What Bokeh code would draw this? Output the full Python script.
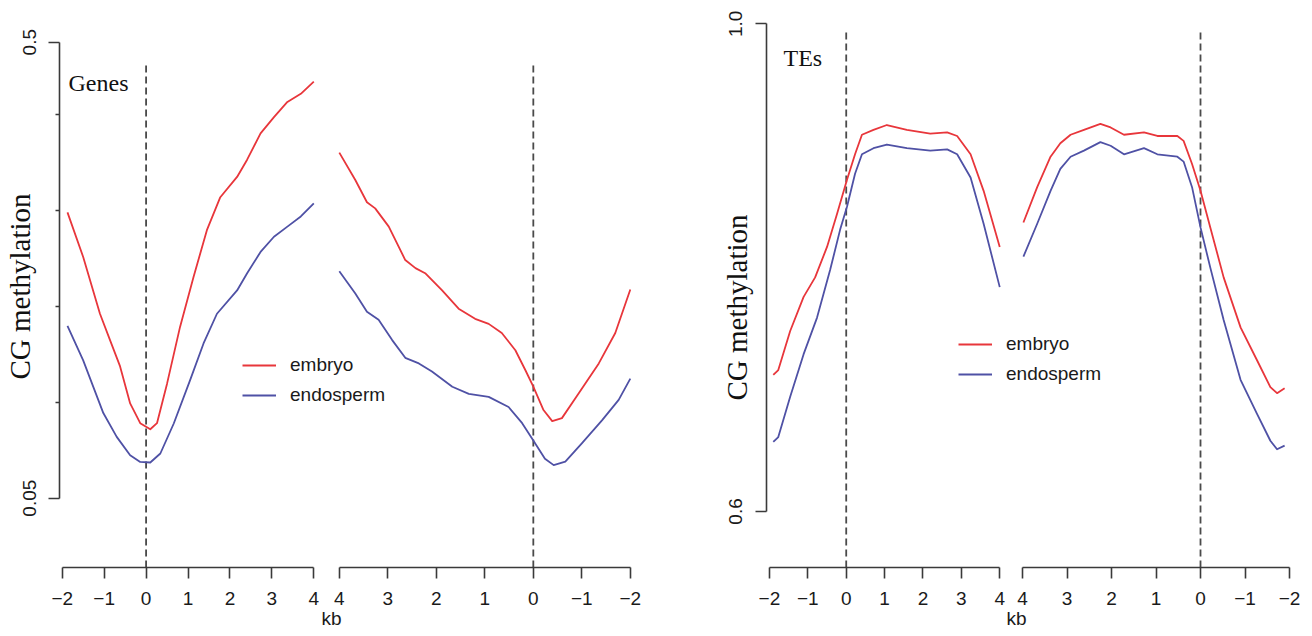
from bokeh.plotting import figure
from bokeh.models import Range1d, FixedTicker, Label, Legend, LegendItem, GridBox, Title
from bokeh.embed import file_html
from bokeh.resources import INLINE

# ---------------- data ----------------
series_names = ["embryo", "endosperm"]
x_tick_values = [-2, -1, 0, 1, 2, 3, 4]
x_tick_labels = ["\u22122", "\u22121", "0", "1", "2", "3", "4"]
boundary_kb = 0  # TSS / TTS position (dashed line)

# Genes, 5' side (-2 .. 4 kb)
gene_x5_embryo = [-1.875, -1.50, -1.10, -0.86, -0.62, -0.38, -0.14, 0.10, 0.26, 0.50, 0.81, 1.13,
                  1.45, 1.77, 2.17, 2.41, 2.73, 3.05, 3.37, 3.69, 4.0]
gene_y5_embryo = [0.332, 0.288, 0.232, 0.206, 0.180, 0.1435, 0.124, 0.118, 0.124, 0.163, 0.219, 0.268,
                  0.3145, 0.347, 0.367, 0.384, 0.410, 0.426, 0.441, 0.449, 0.461]
gene_x5_endo = [-1.875, -1.50, -1.02, -0.70, -0.38, -0.14, 0.10, 0.34, 0.66, 1.05, 1.37, 1.69,
                2.17, 2.41, 2.73, 3.05, 3.37, 3.69, 4.0]
gene_y5_endo = [0.220, 0.186, 0.134, 0.1105, 0.0924, 0.0858, 0.0852, 0.0941, 0.1237, 0.1665, 0.2027, 0.232,
                0.255, 0.272, 0.293, 0.308, 0.318, 0.328, 0.341]
# Genes, 3' side (4 .. -2 kb)
gene_x3_embryo = [4.0, 3.67, 3.43, 3.26, 2.98, 2.64, 2.43, 2.23, 1.88, 1.54, 1.20, 0.92, 0.65, 0.37,
                  0.16, 0.0, -0.21, -0.39, -0.59, -0.93, -1.35, -1.69, -2.0]
gene_y3_embryo = [0.391, 0.364, 0.342, 0.336, 0.318, 0.285, 0.277, 0.272, 0.255, 0.237, 0.227, 0.222, 0.213, 0.196,
                  0.176, 0.160, 0.137, 0.126, 0.129, 0.153, 0.183, 0.213, 0.256]
gene_x3_endo = [4.0, 3.67, 3.43, 3.19, 2.91, 2.64, 2.36, 2.09, 1.67, 1.33, 0.92, 0.51, 0.23, 0.0,
                -0.24, -0.42, -0.66, -1.0, -1.42, -1.76, -2.0]
gene_y3_endo = [0.274, 0.252, 0.234, 0.226, 0.206, 0.1885, 0.183, 0.175, 0.160, 0.153, 0.150, 0.140, 0.124, 0.107,
                0.089, 0.0826, 0.086, 0.104, 0.127, 0.147, 0.168]
gene_y_ticks = [0.05, 0.5]
gene_y_labels = ["0.05", "0.5"]
gene_y_minor = [0.144, 0.239, 0.334, 0.429]

# TEs, 5' side
te_x5_embryo = [-1.90, -1.77, -1.46, -1.11, -0.81, -0.50, -0.24, 0.02, 0.23, 0.41, 0.71, 1.06, 1.58,
                2.19, 2.63, 2.89, 3.24, 3.58, 4.0]
te_y5_embryo = [0.712, 0.716, 0.748, 0.776, 0.792, 0.817, 0.844, 0.872, 0.893, 0.909, 0.913, 0.917, 0.913,
                0.910, 0.911, 0.908, 0.893, 0.863, 0.817]
te_x5_endo = [-1.90, -1.77, -1.46, -1.11, -0.76, -0.42, -0.16, 0.02, 0.23, 0.41, 0.71, 1.06, 1.58,
              2.19, 2.63, 2.89, 3.24, 3.58, 4.0]
te_y5_endo = [0.657, 0.661, 0.694, 0.729, 0.759, 0.798, 0.831, 0.850, 0.877, 0.893, 0.898, 0.901, 0.898,
              0.896, 0.897, 0.893, 0.874, 0.836, 0.784]
# TEs, 3' side
te_x3 = [3.98, 3.67, 3.37, 3.15, 2.92, 2.62, 2.25, 2.02, 1.72, 1.27, 0.97, 0.52, 0.38, 0.19, 0.0,
         -0.22, -0.52, -0.90, -1.27, -1.57, -1.72, -1.89]
te_y3_embryo = [0.837, 0.866, 0.891, 0.902, 0.909, 0.913, 0.918, 0.915, 0.909, 0.911, 0.908, 0.908, 0.904, 0.885,
                0.863, 0.833, 0.792, 0.751, 0.724, 0.702, 0.697, 0.701]
te_y3_endo = [0.809, 0.836, 0.863, 0.881, 0.891, 0.896, 0.903, 0.900, 0.893, 0.898, 0.893, 0.891, 0.887, 0.866,
              0.833, 0.800, 0.757, 0.708, 0.680, 0.658, 0.651, 0.654]
te_y_ticks = [0.6, 1.0]
te_y_labels = ["0.6", "1.0"]
te_y_minor = []

# ---------------- style ----------------
RED = "#e8363b"
BLUE = "#4f51a5"
AXIS = "#3a3a3a"
DASH = "#4a4a4a"
TXT = "#1a1a1a"
SANS = "Liberation Sans"
SERIF = "Liberation Serif"
H = 636


def style_common(p):
    p.grid.visible = False
    p.outline_line_color = None


def style_xaxis(ax):
    ax.ticker = FixedTicker(ticks=x_tick_values, minor_ticks=[])
    ax.major_label_overrides = {v: l for v, l in zip(x_tick_values, x_tick_labels)}
    ax.bounds = (min(x_tick_values), max(x_tick_values))
    ax.major_tick_out = 11
    ax.major_tick_in = 0
    ax.minor_tick_out = 0
    ax.minor_tick_in = 0
    ax.axis_line_color = AXIS
    ax.axis_line_width = 1.6
    ax.major_tick_line_color = AXIS
    ax.major_tick_line_width = 1.6
    ax.major_label_text_font = SANS
    ax.major_label_text_font_size = "19px"
    ax.major_label_text_color = TXT
    ax.major_label_standoff = 13


def dashed_marker(p, y_lo, y_hi):
    p.segment(x0=[boundary_kb], y0=[y_lo], x1=[boundary_kb], y1=[y_hi],
              line_color=DASH, line_dash="7 4", line_width=1.8)


def make_panel(width, borders, x5_range, x3_range, y_range, dash_top, yticks, ylabels, yminor, ystandoff,
               x5e, y5e, x5n, y5n, x3e, y3e, x3n, y3n,
               title, title_pos, ylab_offset, ylab_gap, kb_offset, legend_pos):
    bl, br, bt, bb = borders
    yr = Range1d(*y_range)
    # 5' segment with the y axis
    a = figure(width=width, height=H, x_range=Range1d(*x5_range), y_range=yr,
               output_backend="svg", toolbar_location=None,
               min_border_left=bl, min_border_right=br, min_border_top=bt, min_border_bottom=bb)
    style_common(a)
    style_xaxis(a.xaxis[0])
    ay = a.yaxis[0]
    ay.ticker = FixedTicker(ticks=yticks, minor_ticks=yminor)
    ay.major_label_overrides = {v: l for v, l in zip(yticks, ylabels)}
    ay.bounds = (min(yticks), max(yticks))
    ay.major_label_orientation = "vertical"
    ay.major_tick_out = 11
    ay.major_tick_in = 0
    ay.minor_tick_out = 4
    ay.minor_tick_in = 0
    ay.axis_line_color = AXIS
    ay.axis_line_width = 1.6
    ay.major_tick_line_color = AXIS
    ay.major_tick_line_width = 1.6
    ay.minor_tick_line_color = AXIS
    ay.minor_tick_line_width = 1.4
    ay.major_label_text_font = SANS
    ay.major_label_text_font_size = "19px"
    ay.major_label_text_color = TXT
    ay.major_label_standoff = ystandoff

    dashed_marker(a, y_range[0], dash_top)
    r_e = a.line(x5e, y5e, line_color=RED, line_width=1.8, line_join="round")
    r_n = a.line(x5n, y5n, line_color=BLUE, line_width=1.8, line_join="round")

    legend = Legend(items=[LegendItem(label=series_names[0], renderers=[r_e]),
                           LegendItem(label=series_names[1], renderers=[r_n])],
                    location=legend_pos, orientation="vertical",
                    background_fill_alpha=0, border_line_color=None,
                    padding=0, margin=0, spacing=0,
                    glyph_width=34, glyph_height=30, label_height=30, label_standoff=14,
                    label_text_font=SANS, label_text_font_size="19px",
                    label_text_color=TXT, label_text_baseline="middle")
    a.add_layout(legend)
    a.add_layout(Label(x=title_pos[0], y=title_pos[1], x_units="screen", y_units="screen",
                       text=title, text_font=SERIF, text_font_size="24px", text_color="#111111",
                       text_align="left", text_baseline="alphabetic"))

    # 3' segment, overlaid on the same frame
    b = figure(width=width, height=H, x_range=Range1d(*x3_range), y_range=yr,
               y_axis_location=None, output_backend="svg", toolbar_location=None,
               min_border_left=bl, min_border_right=br, min_border_top=bt, min_border_bottom=bb,
               background_fill_alpha=0, border_fill_alpha=0)
    style_common(b)
    style_xaxis(b.xaxis[0])
    dashed_marker(b, y_range[0], dash_top)
    b.line(x3e, y3e, line_color=RED, line_width=1.8, line_join="round")
    b.line(x3n, y3n, line_color=BLUE, line_width=1.8, line_join="round")
    # blank spacer between the frame and the y-axis title
    b.add_layout(Title(text=" ", text_font_size="1px", standoff=ylab_gap,
                       text_color="#ffffff"), "left")
    b.add_layout(Title(text="CG methylation", align="left", offset=ylab_offset,
                       standoff=0, vertical_align="bottom",
                       text_font=SERIF, text_font_size="29px", text_font_style="normal",
                       text_color="#111111"), "left")
    b.add_layout(Title(text="kb", align="left", offset=kb_offset, standoff=0,
                       vertical_align="top", text_font=SANS, text_font_size="19px",
                       text_font_style="normal", text_color=TXT), "below")
    return a, b


a1, b1 = make_panel(650, (59, 5, 22, 69), (-2.065, 11.911), (9.769, -2.313), (-0.0184, 0.5194), 0.477,
                    gene_y_ticks, gene_y_labels, gene_y_minor, 12,
                    gene_x5_embryo, gene_y5_embryo, gene_x5_endo, gene_y5_endo,
                    gene_x3_embryo, gene_y3_embryo, gene_x3_endo, gene_y3_endo,
                    "Genes", (9, 485), 188, 21, 262, (183, 157))

a2, b2 = make_panel(660, (116, 10, 22, 69), (-2.077, 11.836), (9.753, -2.247), (0.554, 1.0011), 0.996,
                    te_y_ticks, te_y_labels, te_y_minor, 13,
                    te_x5_embryo, te_y5_embryo, te_x5_endo, te_y5_endo,
                    te_x3, te_y3_embryo, te_x3, te_y3_endo,
                    "TEs", (17, 510), 167, 11, 240, (192, 178))

grid = GridBox(children=[(a1, 0, 0), (b1, 0, 0), (a2, 0, 1), (b2, 0, 1)])

open("out.html", "w").write(file_html(grid, INLINE))
